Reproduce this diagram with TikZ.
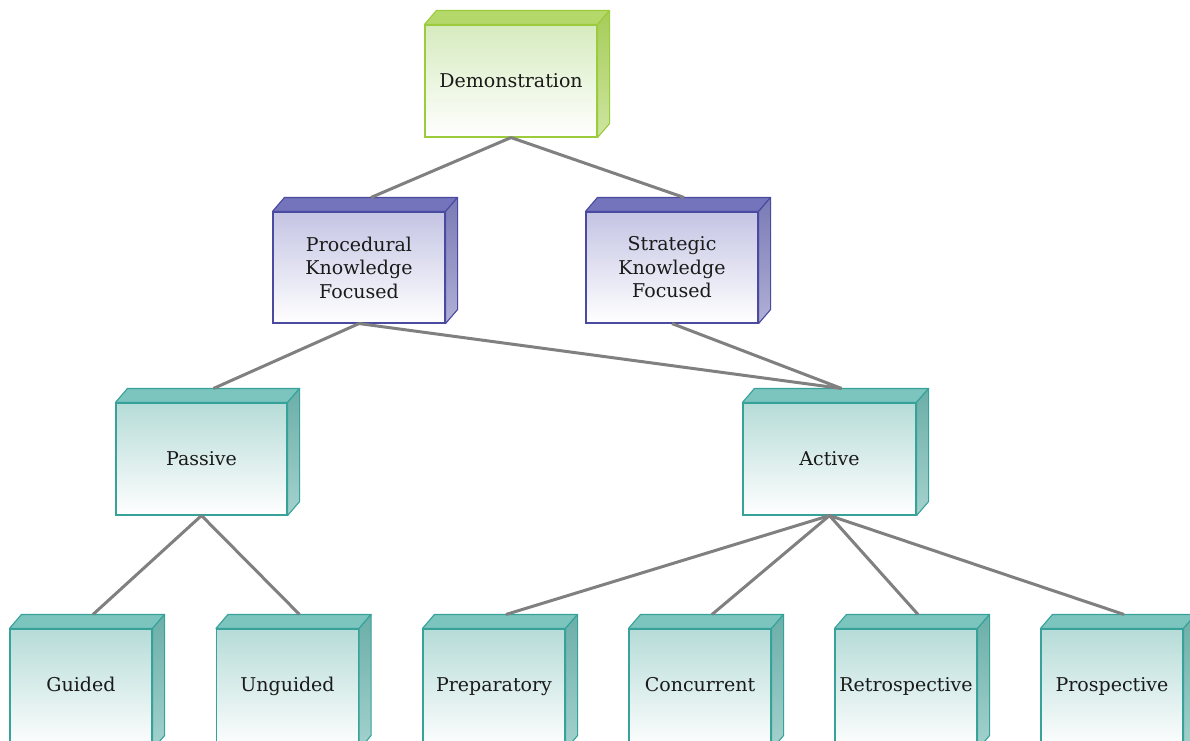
\documentclass[tikz,border=0pt]{standalone}
\usepackage{fontspec}
\setmainfont{DejaVu Serif}
\usetikzlibrary{calc}
\definecolor{gBorder}{HTML}{9CCB3C}
\definecolor{gTop}{HTML}{B4D96A}
\definecolor{gSide}{HTML}{A6CC58}
\definecolor{gSideB}{HTML}{CDE5A0}
\definecolor{gFront}{HTML}{D6EBBE}
\definecolor{pBorder}{HTML}{4A4AA0}
\definecolor{pTop}{HTML}{7474BC}
\definecolor{pSide}{HTML}{7A7AB6}
\definecolor{pSideB}{HTML}{B0B0D6}
\definecolor{pFront}{HTML}{C4C4E4}
\definecolor{tBorder}{HTML}{36A29A}
\definecolor{tTop}{HTML}{7CC4BE}
\definecolor{tSide}{HTML}{6CAEA8}
\definecolor{tSideB}{HTML}{A4D2CE}
\definecolor{tFront}{HTML}{B6DCD8}
\definecolor{conncol}{HTML}{808080}
\definecolor{txt}{HTML}{1A1A1A}
\tikzset{
  frontface/.style={rectangle, line width=1.1pt, inner sep=2pt, align=center,
    font=\fontsize{19}{23.5}\selectfont, text=txt},
  oneline/.style={text height=16pt, text depth=4pt},
  lowrow/.style={text height=12pt, text depth=8pt},
  multiline/.style={},
  conn/.style={draw=conncol, line width=3pt},
}
% #1 name, #2 x, #3 y, #4 w, #5 h, #6 text, #7 scheme prefix (g/p/t), #8 extra style
\newcommand\cubebox[8]{%
  \node[frontface, #8, draw=#7Border, top color=#7Front, bottom color=white,
        minimum width=#4pt, minimum height=#5pt] (#1) at (#2,#3) {#6};
  \filldraw[draw=#7Border, fill=#7Top, line width=1.1pt, line join=round]
    (#1.north west) -- ++(12pt,14pt) -- ($(#1.north east)+(12pt,14pt)$) -- (#1.north east) -- cycle;
  \draw[draw=#7Border, top color=#7Side, bottom color=#7SideB, line width=1.1pt, line join=round]
    (#1.north east) -- ++(12pt,14pt) -- ($(#1.south east)+(12pt,14pt)$) -- (#1.south east) -- cycle;
  \coordinate (#1-top) at ($(#1.north)+(12pt,14pt)$);
}
\begin{document}
\begin{tikzpicture}[x=1pt, y=-1pt]
\useasboundingbox[fill=white] (0,0) rectangle (1190,740);
\cubebox{dem}{511}{81}{172}{112}{Demonstration}{g}{oneline}
\cubebox{proc}{359}{267.5}{172}{111}{Procedural\\Knowledge\\Focused}{p}{multiline}
\cubebox{strat}{672}{267.5}{172}{111}{Strategic\\Knowledge\\Focused}{p}{multiline}
\cubebox{pass}{201.5}{459}{171}{112}{Passive}{t}{oneline}
\cubebox{act}{829.5}{459}{173}{112}{Active}{t}{oneline}
\cubebox{guid}{81}{689}{142}{120}{Guided}{t}{lowrow}
\cubebox{unguid}{287.5}{689}{142}{120}{Unguided}{t}{lowrow}
\cubebox{prep}{494}{689}{142}{120}{Preparatory}{t}{lowrow}
\cubebox{conc}{700}{689}{142}{120}{Concurrent}{t}{lowrow}
\cubebox{retro}{906}{689}{142}{120}{Retrospective}{t}{lowrow}
\cubebox{prosp}{1112}{689}{142}{120}{Prospective}{t}{lowrow}
\draw[conn] (dem.south) -- (proc-top);
\draw[conn] (dem.south) -- (strat-top);
\draw[conn] (proc.south) -- (pass-top);
\draw[conn] (proc.south) -- (act-top);
\draw[conn] (strat.south) -- (act-top);
\draw[conn] (pass.south) -- (guid-top);
\draw[conn] (pass.south) -- (unguid-top);
\draw[conn] (act.south) -- (prep-top);
\draw[conn] (act.south) -- (conc-top);
\draw[conn] (act.south) -- (retro-top);
\draw[conn] (act.south) -- (prosp-top);
\end{tikzpicture}
\end{document}
